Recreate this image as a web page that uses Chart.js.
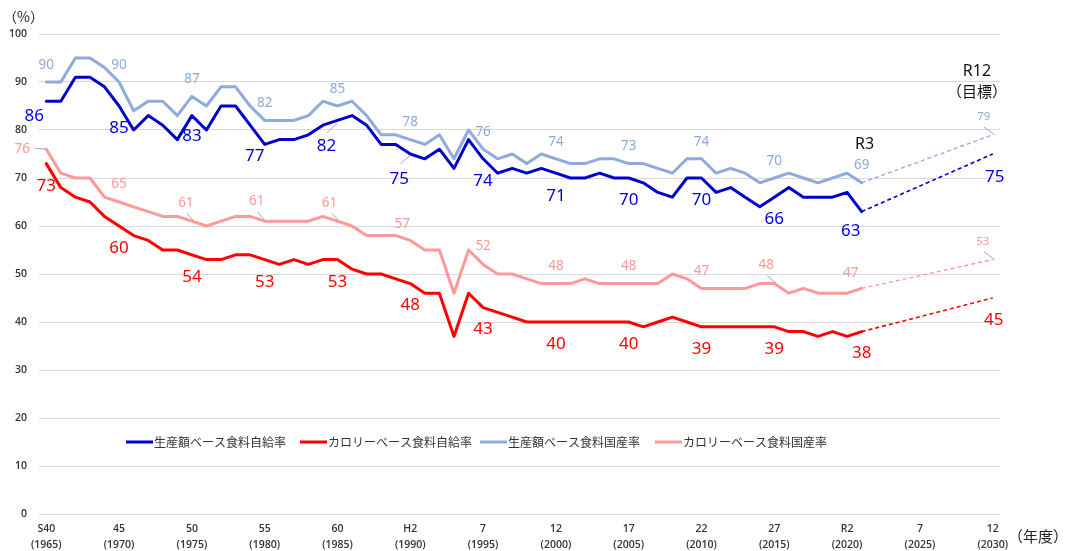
<!DOCTYPE html>
<html><head><meta charset="utf-8">
<script src="https://cdn.jsdelivr.net/npm/chart.js@4"></script>
<style>html,body{margin:0;padding:0;background:#fff;}#wrap{width:1065px;height:551px;}</style>
</head><body><div id="wrap"><canvas id="c" width="1065" height="551"></canvas></div>
<script>
// ---- data ----
const years = [1965,1966,1967,1968,1969,1970,1971,1972,1973,1974,
  1975,1976,1977,1978,1979,1980,1981,1982,1983,1984,
  1985,1986,1987,1988,1989,1990,1991,1992,1993,1994,
  1995,1996,1997,1998,1999,2000,2001,2002,2003,2004,
  2005,2006,2007,2008,2009,2010,2011,2012,2013,2014,
  2015,2016,2017,2018,2019,2020,2021];
const prodSelf = [86,86,91,91,89,85,80,83,81,78,
  83,80,85,85,81,77,78,78,79,81,
  82,83,81,77,77,75,74,76,72,78,
  74,71,72,71,72,71,70,70,71,70,
  70,69,67,66,70,70,67,68,66,64,
  66,68,66,66,66,67,63];
const calSelf = [73,68,66,65,62,60,58,57,55,55,
  54,53,53,54,54,53,52,53,52,53,
  53,51,50,50,49,48,46,46,37,46,
  43,42,41,40,40,40,40,40,40,40,
  40,39,40,41,40,39,39,39,39,39,
  39,38,38,37,38,37,38];
const prodDom = [90,90,95,95,93,90,84,86,86,83,
  87,85,89,89,85,82,82,82,83,86,
  85,86,83,79,79,78,77,79,74,80,
  76,74,75,73,75,74,73,73,74,74,
  73,73,72,71,74,74,71,72,71,69,
  70,71,70,69,70,71,69];
const calDom = [76,71,70,70,66,65,64,63,62,62,
  61,60,61,62,62,61,61,61,61,62,
  61,60,58,58,58,57,55,55,46,55,
  52,50,50,49,48,48,48,49,48,48,
  48,48,48,50,49,47,47,47,47,48,
  48,46,47,46,46,46,47];
const targetYear = 2030;
const prodSelfTarget = 75;
const calSelfTarget = 45;
const prodDomTarget = 79;
const calDomTarget = 53;
const seriesNames = ['生産額ベース食料自給率','カロリーベース食料自給率','生産額ベース食料国産率','カロリーベース食料国産率'];
const tickYears = [1965,1970,1975,1980,1985,1990,1995,2000,2005,2010,2015,2020,2025,2030];
const tickEra = ['S40','45','50','55','60','H2','7','12','17','22','27','R2','7','12'];
const tickWestern = ['(1965)','(1970)','(1975)','(1980)','(1985)','(1990)','(1995)','(2000)','(2005)','(2010)','(2015)','(2020)','(2025)','(2030)'];
const labelYears = [1965,1970,1975,1980,1985,1990,1995,2000,2005,2010,2015,2021];

// ---- styles ----
const colors = ['#0000cc','#ff0000','#8faadc','#ff9999'];
const textColors = ['#0000dd','#ff0000','#8eaadb','#ff9a9a'];
const seriesValues = [prodSelf, calSelf, prodDom, calDom];
const seriesTargets = [prodSelfTarget, calSelfTarget, prodDomTarget, calDomTarget];

// label offsets (px) per series for each labelled year, then target
const labelOffsets = [
  [[-12,15],[0,22],[0,21],[-10,12],[-11,26],[-11,25],[0,22],[0,23],[0,22],[0,22],[0,22],[-11,20],[2,23]],
  [[0,23],[0,22],[0,22.5],[0,23],[0,23],[0,22],[0,22],[0,22],[0,22],[0,22],[0,22],[0,21.5],[1,22]],
  [[0,-17],[0,-17],[0,-17],[0,-17],[0,-17],[0,-17],[0,-17.5],[0,-17],[0,-17.5],[0,-17],[0,-17],[0,-18],[-9,-18]],
  [[-24,0],[0,-18],[-6,-18],[-8,-20],[-8,-18],[-8,-16],[0,-18],[0,-17],[0,-17],[0,-17],[-8,-18],[-11,-15],[-10,-18]]
];
// leader lines: [series, labelIndex, x1,y1,x2,y2 offsets from point]
const leaders = [
  [0,4,-10.4,12.6,-0.4,2.6],
  [0,5,-10,10,0,1],
  [3,0,-11,-1,-1,0],
  [3,2,-5,-8,1,-1],
  [3,3,-7,-9,0,-1],
  [3,4,-6,-8,1,-1],
  [3,10,-7,-8,2,0],
  [2,12,-9,-8,2,0],
  [3,12,-9,-8,2,0]
];
const legendX = [126, 300, 480, 655];

function pts(vals){ return years.map((y,i)=>({x:y,y:vals[i]})); }
function proj(vals,t){ return [{x:years[years.length-1],y:vals[vals.length-1]},{x:targetYear,y:t}]; }

const datasets = [];
for (let s=0;s<4;s++){
  datasets.push({label:seriesNames[s],data:pts(seriesValues[s]),borderColor:colors[s],borderWidth:3,
    pointRadius:0,tension:0,borderJoinStyle:'round',borderCapStyle:'round',fill:false,order:s});
}
for (let s=0;s<4;s++){
  datasets.push({label:seriesNames[s]+'(目標)',data:proj(seriesValues[s],seriesTargets[s]),borderColor:colors[s],
    borderWidth:(s<2?1.6:1.3),borderDash:[4,3],pointRadius:0,tension:0,fill:false,order:4+s});
}

const NUM = '"Noto Sans","Open Sans",sans-serif';
const JP = '"Noto Sans CJK JP","Noto Sans",sans-serif';

const overlay = {
  id:'overlay',
  afterDatasetsDraw(chart){
    const ctx = chart.ctx, xs = chart.scales.x, ys = chart.scales.y;
    ctx.save();
    ctx.textAlign='center'; ctx.textBaseline='middle';
    // leader lines
    ctx.strokeStyle='#a6a6a6'; ctx.lineWidth=1;
    leaders.forEach(l=>{
      const [s,k,x1,y1,x2,y2]=l;
      const yr = k<labelYears.length?labelYears[k]:targetYear;
      const v = k<labelYears.length?seriesValues[s][years.indexOf(yr)]:seriesTargets[s];
      const px=xs.getPixelForValue(yr), py=ys.getPixelForValue(v);
      ctx.beginPath(); ctx.moveTo(px+x1,py+y1); ctx.lineTo(px+x2,py+y2); ctx.stroke();
    });
    // value labels
    for (let s=0;s<4;s++){
      const big = s<2;
      labelOffsets[s].forEach((off,k)=>{
        const isT = k>=labelYears.length;
        const yr = isT?targetYear:labelYears[k];
        const v = isT?seriesTargets[s]:seriesValues[s][years.indexOf(yr)];
        const px=xs.getPixelForValue(yr), py=ys.getPixelForValue(v);
        const size = big?17:(isT?11.5:13.5);
        ctx.font = size+'px '+NUM;
        ctx.fillStyle = textColors[s];
        ctx.fillText(String(v), px+off[0], py+off[1]);
      });
    }
    // annotations
    ctx.fillStyle='#111';
    ctx.font='16px '+NUM;
    ctx.fillText('R3', xs.getPixelForValue(2021)+3, 144);
    ctx.fillText('R12', 977, 71);
    ctx.font='15px '+JP;
    ctx.fillText('（目標）', 977, 91);
    ctx.fillStyle='#222';
    ctx.textAlign='left';
    ctx.font='14px '+JP;
    ctx.fillText('（%）', 3, 17);
    ctx.font='15px '+JP;
    ctx.fillText('（年度）', 1008, 536);
    // legend
    const ly = 442;
    ctx.font='12px '+JP;
    for (let s=0;s<4;s++){
      const lx = legendX[s];
      ctx.strokeStyle=colors[s]; ctx.lineWidth=3; ctx.lineCap='butt';
      ctx.beginPath(); ctx.moveTo(lx,ly); ctx.lineTo(lx+27,ly); ctx.stroke();
      ctx.fillStyle='#333';
      ctx.fillText(seriesNames[s], lx+28, ly);
    }
    ctx.restore();
  }
};

new Chart(document.getElementById('c'), {
  type:'line',
  data:{datasets},
  options:{
    responsive:false, animation:false, devicePixelRatio:1,
    layout:{padding:{top:34,right:65,bottom:0,left:0}},
    plugins:{legend:{display:false},tooltip:{enabled:false}},
    scales:{
      x:{type:'linear',min:1964.5,max:2030.5,
        afterBuildTicks(scale){ scale.ticks = tickYears.map(v=>({value:v})); },
        afterFit(scale){ scale.height = 37; },
        grid:{display:false,drawTicks:false}, border:{display:false},
        ticks:{autoSkip:false,maxRotation:0,padding:7,color:'#333',
          font:{family:'"Open Sans","Noto Sans",sans-serif',size:10.5,weight:'600',lineHeight:1.5},
          callback(v,i){ return [tickEra[i], tickWestern[i]]; }}
      },
      y:{min:0,max:100,
        afterFit(scale){ scale.width = 39; },
        grid:{color:'#d9d9d9',lineWidth:1,drawTicks:false}, border:{display:false},
        ticks:{stepSize:10,padding:12,color:'#333',
          font:{family:'"Open Sans","Noto Sans",sans-serif',size:10.5,weight:'600'}}
      }
    }
  },
  plugins:[overlay]
});
</script></body></html>
